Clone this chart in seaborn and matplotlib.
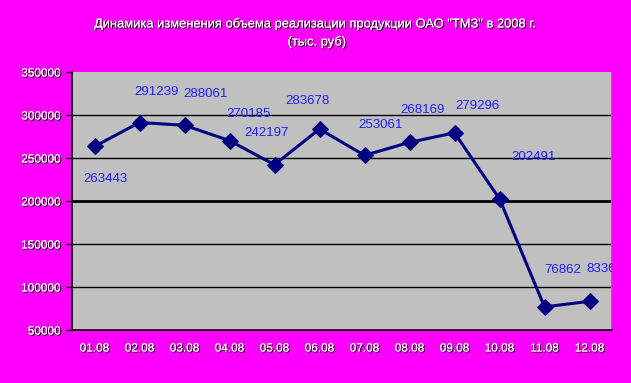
import matplotlib
matplotlib.use("Agg")
import matplotlib.pyplot as plt
import matplotlib.patheffects as pe
import numpy as np
import seaborn as sns

months = ["01.08", "02.08", "03.08", "04.08", "05.08", "06.08",
          "07.08", "08.08", "09.08", "10.08", "11.08", "12.08"]
sales = [263443, 291239, 288061, 270185, 242197, 283678,
         253061, 268169, 279296, 202491, 76862, 83365]
y_ticks = [50000, 100000, 150000, 200000, 250000, 300000, 350000]

# label offsets in pixels (dx, dy) from each marker
label_offsets = [(11, -33), (17, 31), (21, 31), (19, 27), (-8, 32), (-12, 28),
                 (16, 30), (13, 32), (23, 27), (34, 42), (18, 37), (15, 32)]

sns.set_theme(style="white")
plt.rcParams["font.family"] = ["Liberation Sans", "DejaVu Sans"]

fig = plt.figure(figsize=(6.31, 3.83), dpi=100, facecolor="#FF00FF")
ax = fig.add_axes([72 / 631, 1 - 330 / 383, 540 / 631, 258 / 383])
ax.set_facecolor("#C0C0C0")

x = np.arange(len(months))
sns.lineplot(x=x, y=sales, ax=ax, color="#000080", linewidth=2.2,
             marker="D", markersize=8, markeredgecolor="#000080", sort=False)

ax.set_xlim(-0.5, len(months) - 0.5)
ax.set_ylim(50000, 350000)
ax.set_yticks(y_ticks)
for t in y_ticks[1:-1]:
    ax.axhline(t, color="black", linewidth=2.0 if t == 200000 else 1.0, zorder=0.5)

shadow = [pe.withSimplePatchShadow(offset=(0.8, -0.8), shadow_rgbFace="black", alpha=1.0), pe.Normal()]

ax.set_yticklabels([str(t) for t in y_ticks], color="white", fontsize=8.5,
                   path_effects=shadow)
ax.set_xticks(x)
ax.set_xticklabels(months, color="white", fontsize=8.5, path_effects=shadow)
ax.set_xticks(np.arange(-0.5, len(months)), minor=True)
ax.tick_params(axis="x", which="major", length=0, pad=9)
ax.tick_params(axis="x", which="minor", length=4, color="black", width=1, direction="out")
ax.tick_params(axis="y", length=4, color="black", width=1, direction="out", left=True, pad=4)

for side in ["top", "right"]:
    ax.spines[side].set_visible(False)
ax.spines["left"].set_color("black")
ax.spines["bottom"].set_color("black")
ax.spines["left"].set_linewidth(1.2)
ax.spines["bottom"].set_linewidth(1.2)
ax.axvline(len(months) - 0.5, color="#808080", linewidth=1.5)

for xi, val, (dx, dy) in zip(x, sales, label_offsets):
    ax.annotate(str(val), (xi, val), xytext=(dx, dy), textcoords="offset pixels",
                ha="center", va="center", color="#1E1EFF", fontsize=9.5,
                annotation_clip=False, clip_on=True)

fig.text(0.498, 1 - 24 / 383, "Динамика изменения объема реализации продукции ОАО \"ТМЗ\" в 2008 г.",
         ha="center", va="center", color="white", fontsize=9.3, path_effects=shadow)
fig.text(0.502, 1 - 42 / 383, "(тыс. руб)", ha="center", va="center", color="white",
         fontsize=9.3, path_effects=shadow)

fig.savefig("out.png", dpi=100, facecolor=fig.get_facecolor())
